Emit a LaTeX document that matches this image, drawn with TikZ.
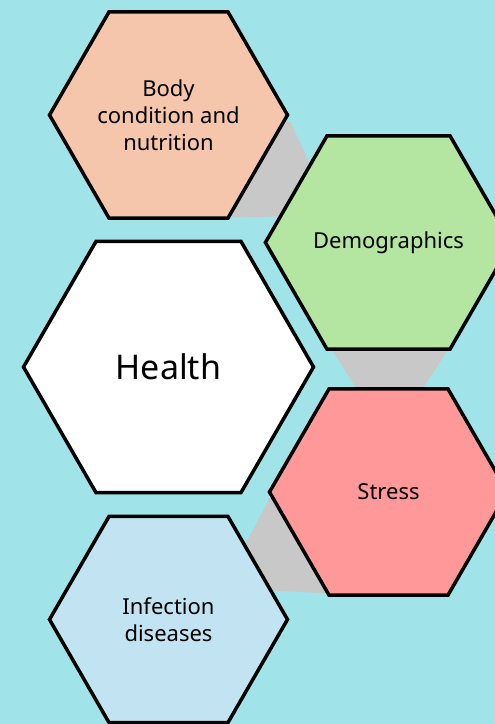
\documentclass[tikz,border=0pt]{standalone}
\usepackage{fontspec}
\setmainfont{Noto Sans}
\usetikzlibrary{shapes.geometric}
\definecolor{sea}{RGB}{160,227,232}
\definecolor{peach}{RGB}{246,198,172}
\definecolor{leaf}{RGB}{180,229,161}
\definecolor{rose}{RGB}{255,153,153}
\definecolor{sky}{RGB}{194,228,242}
\definecolor{linkgray}{RGB}{200,200,200}
\pgfdeclarelayer{back}
\pgfdeclarelayer{links}
\pgfsetlayers{back,links,main}
\begin{document}
\begin{tikzpicture}[x=1pt, y=-1pt, line join=miter,
    hexa/.style={regular polygon, regular polygon sides=6, draw=black, line width=3.5pt,
        minimum size=238pt, inner sep=0pt, align=center, font=\fontsize{22}{27}\selectfont},
    link/.style={fill=linkgray}]
    \begin{pgfonlayer}{back}
        \fill[sea] (0,0) rectangle (495,724);
    \end{pgfonlayer}
    \useasboundingbox (0,0) rectangle (495,724);
    \node[hexa, fill=peach] (body) at (168.5,115) {Body\\condition and\\nutrition};
    \node[hexa, fill=leaf] (demo) at (388.5,242.5) {Demographics};
    \node[hexa, fill=white, minimum size=290pt, font=\fontsize{34}{40}\selectfont] (health) at (168.5,367) {Health};
    \node[hexa, fill=rose] (stress) at (388.5,492) {Stress};
    \node[hexa, fill=sky] (infect) at (168.5,619.5) {Infection\\diseases};
    \begin{pgfonlayer}{links}
        \fill[link] ([shift={(-20,7)}]body.0) -- ([shift={(1,7)}]body.0)
            -- ([shift={(70,-27)}]demo.180) -- ([shift={(-20,-2)}]body.300) -- cycle;
        \fill[link] ([shift={(1,-9)}]demo.240) -- ([shift={(2,-9)}]demo.300)
            -- ([shift={(-32,10)}]stress.60) -- ([shift={(34,10)}]stress.120) -- cycle;
        \fill[link] ([shift={(10,-8)}]stress.180) -- ([shift={(8,45)}]infect.60)
            -- ([shift={(8,74)}]infect.60) -- ([shift={(30,-2)}]stress.240)
            -- ([shift={(90,-8)}]stress.180) -- cycle;
    \end{pgfonlayer}
\end{tikzpicture}
\end{document}
